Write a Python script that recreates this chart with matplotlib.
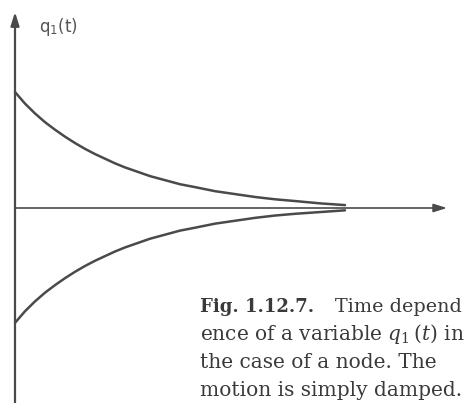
import matplotlib
matplotlib.use("Agg")
import matplotlib.pyplot as plt

# Damped (node) solution sampled along the time axis
t = [0.0, 0.1, 0.2, 0.3, 0.4, 0.5, 0.6, 0.7, 0.8, 0.9, 1.0, 1.1, 1.2,
     1.35, 1.5, 1.65, 1.8, 2.0, 2.2, 2.4, 2.6, 2.8, 3.05, 3.3]
q_upper = [1.00, 0.90, 0.815, 0.74, 0.675, 0.615, 0.56, 0.51, 0.465, 0.425, 0.385, 0.35, 0.32,
           0.275, 0.24, 0.205, 0.18, 0.145, 0.12, 0.095, 0.075, 0.06, 0.04, 0.025]
q_lower = [-0.99, -0.89, -0.805, -0.73, -0.665, -0.605, -0.55, -0.50, -0.455, -0.415, -0.375, -0.34, -0.31,
           -0.265, -0.23, -0.195, -0.17, -0.135, -0.11, -0.085, -0.065, -0.05, -0.035, -0.02]

caption_lines = [
    "ence of a variable $q_1\\,(t)$ in",
    "the case of a node. The",
    "motion is simply damped.",
]

plt.rcParams["mathtext.fontset"] = "dejavuserif"

W, H = 468, 403
fig = plt.figure(figsize=(W / 100, H / 100), dpi=100)
ax = fig.add_axes([0, 0, 1, 1])
ax.set_xlim(-0.15, 4.53)
ax.set_ylim(-(H - 208) / 116, 208 / 116)
ax.axis("off")

ink = "#4a4a4a"

# axes with arrow heads
ax.annotate("", xy=(4.32, 0), xytext=(0, 0),
            arrowprops=dict(arrowstyle="-|>,head_length=0.8,head_width=0.25",
                            color=ink, lw=1.2, shrinkA=0, shrinkB=0))
ax.annotate("", xy=(0, 1.69), xytext=(0, -1.75),
            arrowprops=dict(arrowstyle="-|>,head_length=0.8,head_width=0.25",
                            color=ink, lw=1.6, shrinkA=0, shrinkB=0))

ax.plot(t, q_upper, color=ink, lw=1.8, solid_capstyle="round", solid_joinstyle="round")
ax.plot(t, q_lower, color=ink, lw=1.8, solid_capstyle="round", solid_joinstyle="round")

ax.text(0.24, 1.56, "q$_\\mathregular{1}$(t)", fontsize=12, color="#555555",
        family="DejaVu Sans", va="center", ha="left")

# caption
serif = "DejaVu Serif"
cap = "#3a3a3a"
fig.text(200 / W, 1 - 312 / H, "Fig. 1.12.7.", fontsize=13, weight="bold",
         family=serif, color=cap, va="baseline")
fig.text(335 / W, 1 - 312 / H, "Time depend", fontsize=13.8,
         family=serif, color=cap, va="baseline")
for i, line in enumerate(caption_lines):
    fig.text(200 / W, 1 - (340 + 28 * i) / H, line, fontsize=14.5,
             family=serif, color=cap, va="baseline")

fig.savefig("out.png", dpi=100)
